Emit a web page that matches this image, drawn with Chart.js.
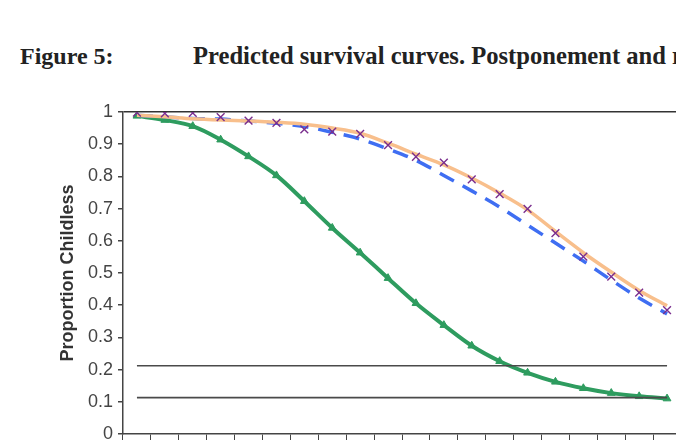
<!DOCTYPE html>
<html>
<head>
<meta charset="utf-8">
<script src="https://cdn.jsdelivr.net/npm/chart.js@4/dist/chart.umd.min.js"></script>
<style>
  html, body { margin: 0; padding: 0; background: #fff; }
  body { width: 676px; height: 440px; overflow: hidden; position: relative; }
  .fig { position: absolute; top: 44px; font: bold 24px "Liberation Serif", "Times New Roman", serif; line-height: 24px; color: #222; white-space: nowrap; }
  #chartBox { position: absolute; left: 0; top: 90px; width: 700px; height: 420px; }
</style>
</head>
<body>
<div class="fig" style="left:20px">Figure 5:</div>
<div class="fig" style="left:193px; font-size:24.6px">Predicted survival curves. Postponement and recuperation</div>
<div id="chartBox"><canvas id="survivalChart"></canvas></div>
<script>
// categories (ages) - the axis labels sit below the cropped edge
const ages = ['15', '16', '17', '18', '19', '20', '21', '22', '23', '24',
              '25', '26', '27', '28', '29', '30', '31', '32', '33', '34'];

// green curve with triangles
const earlyCurve = [0.988, 0.975, 0.956, 0.914, 0.862, 0.803, 0.723, 0.64, 0.563, 0.484,
                    0.406, 0.338, 0.274, 0.226, 0.19, 0.162, 0.142, 0.127, 0.117, 0.11];
// observed points (purple crosses)
const observed = [0.998, 0.996, 0.997, 0.984, 0.973, 0.966, 0.946, 0.939, 0.932, 0.897,
                  0.861, 0.843, 0.791, 0.745, 0.699, 0.624, 0.551, 0.489, 0.439, 0.385];
// orange fitted curve
const fitted = [0.99, 0.985, 0.979, 0.975, 0.972, 0.968, 0.962, 0.95, 0.934, 0.903,
                0.869, 0.836, 0.795, 0.748, 0.696, 0.629, 0.563, 0.503, 0.446, 0.398];
// blue dashed curve
const predicted = [0.99, 0.985, 0.98, 0.978, 0.972, 0.965, 0.955, 0.937, 0.916, 0.885,
                   0.85, 0.803, 0.755, 0.705, 0.649, 0.593, 0.537, 0.478, 0.422, 0.373];
// two flat reference levels
const levelHigh = [0.212, 0.212, 0.212, 0.212, 0.212, 0.212, 0.212, 0.212, 0.212, 0.212,
                   0.212, 0.212, 0.212, 0.212, 0.212, 0.212, 0.212, 0.212, 0.212, 0.212];
const levelLow = [0.113, 0.113, 0.113, 0.113, 0.113, 0.113, 0.113, 0.113, 0.113, 0.113,
                  0.113, 0.113, 0.113, 0.113, 0.113, 0.113, 0.113, 0.113, 0.113, 0.113];

const ctx = document.getElementById('survivalChart').getContext('2d');

new Chart(ctx, {
  type: 'line',
  data: {
    labels: ages,
    datasets: [
      { data: levelHigh, borderColor: '#4a4a4a', borderWidth: 1.6, pointRadius: 0, order: 0 },
      { data: levelLow, borderColor: '#4a4a4a', borderWidth: 1.6, pointRadius: 0, order: 0 },
      { data: observed, showLine: false, pointStyle: 'crossRot', pointRadius: 5.5,
        borderColor: '#7a2e8e', pointBorderWidth: 1.4, order: 1 },
      { data: fitted, borderColor: '#f8bf8c', borderWidth: 3.5, pointRadius: 0,
        cubicInterpolationMode: 'monotone', order: 2 },
      { data: predicted, borderColor: '#3f6ef2', borderWidth: 3.5, borderDash: [16, 10],
        pointRadius: 0, cubicInterpolationMode: 'monotone', order: 3 },
      { data: earlyCurve, borderColor: '#2e9c5f', backgroundColor: '#2e9c5f', borderWidth: 4,
        pointStyle: 'triangle', pointRadius: 4.5, pointBorderWidth: 1,
        cubicInterpolationMode: 'monotone', order: 4 }
    ]
  },
  options: {
    responsive: true,
    maintainAspectRatio: false,
    animation: false,
    layout: { padding: { left: 53, right: 19, top: 22, bottom: 0 } },
    plugins: { legend: { display: false }, tooltip: { enabled: false } },
    scales: {
      x: {
        offset: true,
        grid: { offset: true, drawOnChartArea: false, drawTicks: true, tickLength: 6, tickColor: '#444' },
        border: { color: '#444', width: 1.5 },
        ticks: { color: '#444', font: { family: 'Liberation Sans', size: 18 } },
        afterFit: (scale) => { scale.height = 76; }
      },
      y: {
        min: 0,
        max: 1,
        ticks: {
          stepSize: 0.1,
          padding: 5,
          color: '#444',
          font: { family: 'Liberation Sans', size: 18 },
          callback: (v) => Math.round(v * 10) / 10
        },
        grid: {
          color: (c) => (c.tick && c.tick.value === 1 ? '#333' : 'rgba(0,0,0,0)'),
          lineWidth: 1.5,
          tickLength: 5,
          tickColor: '#444'
        },
        border: { color: '#444', width: 1.5 },
        title: {
          display: true,
          text: 'Proportion Childless',
          color: '#333',
          font: { family: 'Liberation Sans', size: 18, weight: 'bold' }
        },
        afterFit: (scale) => { scale.width = 70; }
      }
    }
  }
});
</script>
</body>
</html>
